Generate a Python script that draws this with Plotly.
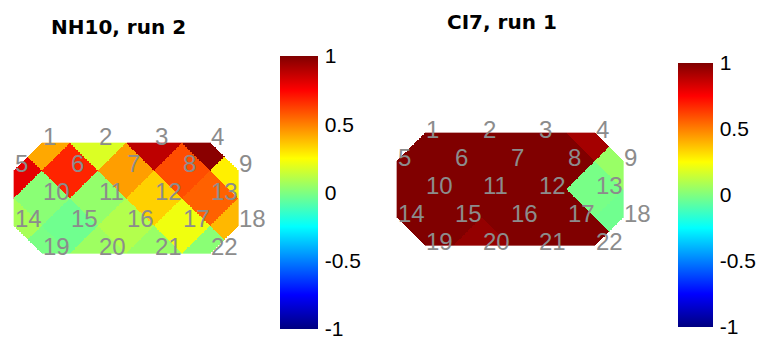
import numpy as np
import plotly.graph_objects as go

# ---- data ----
electrodes = [str(i) for i in range(1, 23)]
# staggered layout: column in half-steps, row index (0 = top)
elec_col = [1, 3, 5, 7,
            0, 2, 4, 6, 8,
            1, 3, 5, 7,
            0, 2, 4, 6, 8,
            1, 3, 5, 7]
elec_row = [0, 0, 0, 0,
            1, 1, 1, 1, 1,
            2, 2, 2, 2,
            3, 3, 3, 3, 3,
            4, 4, 4, 4]
values_nh10 = [0.42, 0.18, 0.88, 0.98,
               0.80, 0.68, 0.44, 0.60, 0.28,
               0.02, 0.04, 0.34, 0.56,
               0.08, -0.03, 0.10, 0.22, 0.39,
               -0.01, 0.06, 0.05, 0.02]
values_ci7 = [1.0, 1.0, 1.0, 0.93,
              1.0, 1.0, 1.0, 1.0, 0.05,
              1.0, 1.0, 1.0, -0.015,
              1.0, 1.0, 1.0, 1.0, -0.03,
              1.0, 0.96, 1.0, 1.0]
titles = ["NH10, run 2", "CI7, run 1"]
cbar_ticks = [-1, -0.5, 0, 0.5, 1]
cbar_text = ["-1", "-0.5", "0", "0.5", "1"]

jet = [[0.0, "rgb(0,0,128)"], [0.125, "rgb(0,0,255)"], [0.375, "rgb(0,255,255)"],
       [0.625, "rgb(255,255,0)"], [0.875, "rgb(255,0,0)"], [1.0, "rgb(128,0,0)"]]

W, H = 759, 343
ex = np.array(elec_col, float)
ey = np.array(elec_row, float)


def nn_grid(vals):
    gx = np.linspace(0, 8, 321)
    gy = np.linspace(0, 4, 161)
    X, Y = np.meshgrid(gx, gy)
    d = (X[..., None] - ex) ** 2 + (Y[..., None] - ey) ** 2
    idx = np.argmin(d, axis=-1)
    Z = np.array(vals)[idx]
    tol = 1e-9
    inside = ((X + Y >= 1 - tol) & ((8 - X) + Y >= 1 - tol) &
              (X + (4 - Y) >= 1 - tol) & ((8 - X) + (4 - Y) >= 1 - tol))
    Z = np.where(inside, Z, np.nan)
    return gx, gy, Z


# panel pixel geometry: origin px, scale px/unit
panels = [
    dict(vals=values_nh10, x0=14, sx=28.0, y0=143, sy=27.5, yshift=7,
         title_x=118, title_y=27, cb_x=280, cb_top=56, cb_bot=329, cb_w=38),
    dict(vals=values_ci7, x0=397, sx=28.25, y0=133, sy=28.0, yshift=4,
         title_x=502, title_y=22, cb_x=678, cb_top=63, cb_bot=327, cb_w=35),
]

fig = go.Figure()
annotations = []
label_font = dict(family="Liberation Sans Narrow, Liberation Sans, Arial", size=24, color="#8c8c8c")
tick_font = dict(family="Liberation Sans Narrow, Liberation Sans, Arial", size=21, color="black")

for i, p in enumerate(panels):
    n = i + 1
    xa = "x" if n == 1 else f"x{n}"
    ya = "y" if n == 1 else f"y{n}"
    ca = "coloraxis" if n == 1 else f"coloraxis{n}"
    gx, gy, Z = nn_grid(p["vals"])
    fig.add_trace(go.Heatmap(x=gx, y=gy, z=Z, coloraxis=ca, xaxis=xa, yaxis=ya,
                             hoverinfo="skip"))
    xr = [-0.5, 9.0]
    yr = [-2.0, 6.5]
    px_l = p["x0"] + p["sx"] * xr[0]
    px_r = p["x0"] + p["sx"] * xr[1]
    py_t = p["y0"] + p["sy"] * yr[0]
    py_b = p["y0"] + p["sy"] * yr[1]
    fig.update_layout(**{
        ("xaxis" if n == 1 else f"xaxis{n}"): dict(range=xr, domain=[px_l / W, px_r / W],
                                                   visible=False, anchor=ya),
        ("yaxis" if n == 1 else f"yaxis{n}"): dict(range=[yr[1], yr[0]],
                                                   domain=[1 - py_b / H, 1 - py_t / H],
                                                   visible=False, anchor=xa),
        ca: dict(colorscale=jet, cmin=-1, cmax=1,
                 colorbar=dict(x=p["cb_x"] / W, xanchor="left", xpad=0,
                               y=1 - p["cb_top"] / H, yanchor="top", ypad=0,
                               len=(p["cb_bot"] - p["cb_top"]) / H, lenmode="fraction",
                               thickness=p["cb_w"], thicknessmode="pixels",
                               outlinewidth=0, tickvals=cbar_ticks, ticktext=cbar_text,
                               ticks="outside", ticklen=3, tickcolor="white",
                               ticklabeloverflow="allow",
                               tickfont=tick_font)),
    })
    for lab, cx, cy in zip(electrodes, elec_col, elec_row):
        annotations.append(dict(x=cx, y=cy, xref=xa, yref=ya, text=lab, showarrow=False,
                                xanchor="left", yanchor="middle", xshift=-1,
                                yshift=p["yshift"], font=label_font))
    annotations.append(dict(x=p["title_x"] / W, y=1 - p["title_y"] / H, xref="paper",
                            yref="paper", text=f"<b>{titles[i]}</b>", showarrow=False,
                            xanchor="center", yanchor="middle",
                            font=dict(family="DejaVu Sans", size=20, color="black")))

fig.update_layout(width=W, height=H, margin=dict(l=0, r=0, t=0, b=0),
                  paper_bgcolor="white", plot_bgcolor="white", showlegend=False,
                  annotations=annotations)
fig.write_html("out.html")
